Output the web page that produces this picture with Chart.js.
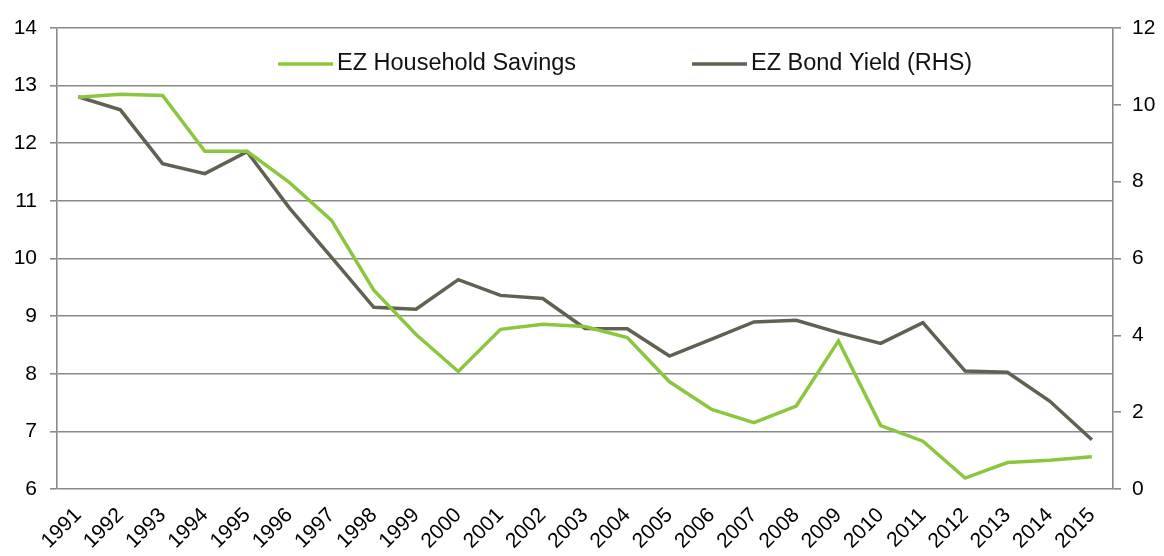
<!DOCTYPE html>
<html lang="en">
<head>
    <meta charset="UTF-8">
    <title>EZ Household Savings vs EZ Bond Yield</title>
    <style>
        html, body { margin: 0; padding: 0; background: #fff; }
        #wrap { width: 1164px; height: 556px; }
    </style>
</head>
<body>
    <div id="wrap"><canvas id="chart" width="1164" height="556"></canvas></div>

    <script src="https://cdn.jsdelivr.net/npm/chart.js"></script>
    <script>
        // data
        const years = ['1991', '1992', '1993', '1994', '1995', '1996', '1997', '1998', '1999', '2000',
            '2001', '2002', '2003', '2004', '2005', '2006', '2007', '2008', '2009', '2010',
            '2011', '2012', '2013', '2014', '2015'];
        const savings = [12.80, 12.85, 12.83, 11.86, 11.86, 11.32, 10.66, 9.45, 8.68, 8.04,
            8.77, 8.86, 8.82, 8.63, 7.86, 7.38, 7.15, 7.44, 8.57, 7.10,
            6.83, 6.19, 6.46, 6.50, 6.56];
        const bondYield = [10.21, 9.87, 8.47, 8.21, 8.78, 7.32, 6.03, 4.73, 4.68, 5.45,
            5.04, 4.96, 4.18, 4.17, 3.46, 3.90, 4.35, 4.39, 4.07, 3.79,
            4.33, 3.07, 3.04, 2.29, 1.28];
        const leftTicks = [6, 7, 8, 9, 10, 11, 12, 13, 14];
        const rightTicks = [0, 2, 4, 6, 8, 10, 12];

        const green = '#8cc63f';
        const dark = '#5f6152';
        const gridGray = '#8a8a8a';
        const font = "'Liberation Sans', Arial, sans-serif";

        // legend drawn inside the plot, like the original
        const inPlotLegend = {
            id: 'inPlotLegend',
            afterDraw(chart) {
                const ctx = chart.ctx;
                const items = [
                    { x: 278, ds: chart.data.datasets[0] },
                    { x: 692, ds: chart.data.datasets[1] }
                ];
                ctx.save();
                ctx.font = '23.5px ' + font;
                ctx.textBaseline = 'middle';
                items.forEach(it => {
                    ctx.strokeStyle = it.ds.borderColor;
                    ctx.lineWidth = 3.5;
                    ctx.beginPath();
                    ctx.moveTo(it.x, 64);
                    ctx.lineTo(it.x + 55, 64);
                    ctx.stroke();
                    ctx.fillStyle = '#111';
                    ctx.fillText(it.ds.label, it.x + 59, 64);
                });
                ctx.restore();
            }
        };

        const ctx = document.getElementById('chart').getContext('2d');
        new Chart(ctx, {
            type: 'line',
            data: {
                labels: years,
                datasets: [{
                    label: 'EZ Household Savings',
                    data: savings,
                    borderColor: green,
                    backgroundColor: green,
                    borderWidth: 3.5,
                    pointRadius: 0,
                    tension: 0,
                    yAxisID: 'y'
                }, {
                    label: 'EZ Bond Yield (RHS)',
                    data: bondYield,
                    borderColor: dark,
                    backgroundColor: dark,
                    borderWidth: 3.5,
                    pointRadius: 0,
                    tension: 0,
                    yAxisID: 'y1'
                }]
            },
            options: {
                responsive: false,
                animation: false,
                layout: { padding: { top: 28 } },
                plugins: {
                    legend: { display: false },
                    tooltip: { enabled: false }
                },
                scales: {
                    x: {
                        offset: true,
                        afterFit: s => { s.height = 67; },
                        grid: { display: false, drawTicks: false },
                        border: { display: false },
                        ticks: {
                            color: '#000',
                            font: { family: font, size: 21 },
                            minRotation: 45,
                            maxRotation: 45,
                            padding: 14,
                            autoSkip: false
                        }
                    },
                    y: {
                        position: 'left',
                        min: 6,
                        max: 14,
                        afterFit: s => { s.width = 57; },
                        afterBuildTicks: s => { s.ticks = leftTicks.map(v => ({ value: v })); },
                        grid: { color: gridGray, lineWidth: 1.6, tickLength: 7 },
                        border: { color: gridGray, width: 1.6 },
                        ticks: {
                            color: '#000',
                            font: { family: font, size: 21 },
                            padding: 13
                        }
                    },
                    y1: {
                        position: 'right',
                        min: 0,
                        max: 12,
                        afterFit: s => { s.width = 51; },
                        afterBuildTicks: s => { s.ticks = rightTicks.map(v => ({ value: v })); },
                        grid: { drawOnChartArea: false, color: gridGray, lineWidth: 1.6, tickLength: 8 },
                        border: { color: gridGray, width: 1.6 },
                        ticks: {
                            color: '#000',
                            font: { family: font, size: 21 },
                            padding: 11
                        }
                    }
                }
            },
            plugins: [inPlotLegend]
        });
    </script>
</body>
</html>
